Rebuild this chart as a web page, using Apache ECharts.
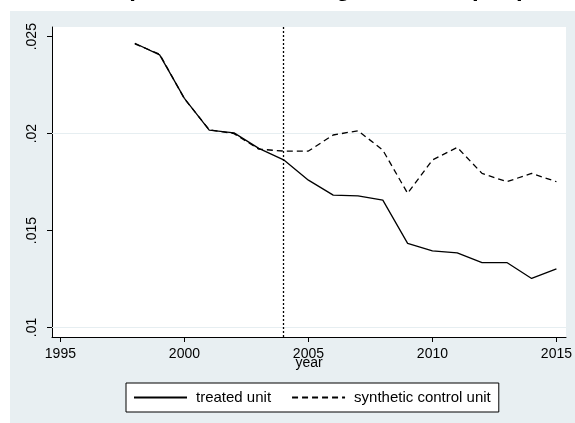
<!DOCTYPE html>
<html>
<head>
<meta charset="utf-8">
<script src="https://cdn.jsdelivr.net/npm/echarts@6/dist/echarts.min.js"></script>
<style>
  html, body { margin: 0; padding: 0; background: #ffffff; }
  #chart { width: 575px; height: 423px; }
</style>
</head>
<body>
<div id="chart"></div>
<script>
// New training contracts per person: treated unit vs synthetic control
const years = [1998, 1999, 2000, 2001, 2002, 2003, 2004, 2005, 2006,
               2007, 2008, 2009, 2010, 2011, 2012, 2013, 2014, 2015];
const treatedUnit = [0.02466, 0.02406, 0.02182, 0.02018, 0.02004, 0.01924,
                     0.01865, 0.01760, 0.01683, 0.01679, 0.01657, 0.01434,
                     0.01395, 0.01385, 0.01335, 0.01335, 0.01253, 0.01302];
const syntheticUnit = [0.02463, 0.02410, 0.02180, 0.02020, 0.02000, 0.01920,
                       0.01910, 0.01910, 0.01993, 0.02015, 0.01915, 0.01692,
                       0.01864, 0.01929, 0.01795, 0.01752, 0.01795, 0.01752];
const treatmentYear = 2004;
const xTickValues = [1995, 2000, 2005, 2010, 2015];
const yTickValues = [0.01, 0.015, 0.02, 0.025];
const yTickLabels = ['.01', '.015', '.02', '.025'];

const FONT = '"Liberation Sans", Arial, sans-serif';
const BG = '#e8eff2';
const GRIDLINE = '#e6eef1';

const pairs = (vals) => years.map((y, i) => [y, vals[i]]);

const chart = echarts.init(document.getElementById('chart'), null, { renderer: 'canvas' });

chart.setOption({
  animation: false,
  backgroundColor: '#ffffff',
  graphic: [
    {
      type: 'rect', z: -100, silent: true,
      shape: { x: 10, y: 11, width: 565, height: 412 },
      style: { fill: BG }
    }
  ],
  title: {
    text: 'Graph 2a: New training contracts per person',
    left: 88,
    top: -23,
    padding: 0,
    textStyle: { fontFamily: FONT, fontSize: 24, fontWeight: 'bold', color: '#000' }
  },
  grid: {
    left: 52, right: 3, top: 27, bottom: 86,
    show: true, backgroundColor: '#ffffff', borderWidth: 0,
    containLabel: false
  },
  legend: {
    data: ['treated unit', 'synthetic control unit'],
    left: 126,
    top: 383,
    orient: 'horizontal',
    padding: [7, 8, 7, 7],
    itemWidth: 53,
    itemHeight: 14,
    itemGap: 20,
    backgroundColor: '#ffffff',
    borderColor: '#000000',
    borderWidth: 1,
    borderRadius: 0,
    itemStyle: { color: 'rgba(0,0,0,0)', borderWidth: 0, opacity: 0 },
    textStyle: { fontFamily: FONT, fontSize: 15, color: '#000', padding: [0, 0, 0, 4] }
  },
  xAxis: {
    type: 'value',
    min: 1994.661,
    max: 2015.387,
    name: 'year',
    nameLocation: 'middle',
    nameGap: 19,
    nameMoveOverlap: false,
    nameTextStyle: { fontFamily: FONT, fontSize: 14, color: '#000' },
    axisLine: { show: true, onZero: false, lineStyle: { color: '#000', width: 1 } },
    axisTick: { show: true, length: 5, customValues: xTickValues, lineStyle: { color: '#000' } },
    axisLabel: {
      show: true, margin: 10, customValues: xTickValues,
      fontFamily: FONT, fontSize: 14, color: '#000',
      formatter: (v) => String(Math.round(v))
    },
    splitLine: { show: false }
  },
  yAxis: {
    type: 'value',
    min: 0.00951,
    max: 0.0255,
    axisLine: { show: true, onZero: false, lineStyle: { color: '#000', width: 1 } },
    axisTick: { show: true, length: 5, customValues: yTickValues, lineStyle: { color: '#000' } },
    axisLabel: {
      show: true, margin: 13, rotate: 90, customValues: yTickValues,
      fontFamily: FONT, fontSize: 14, color: '#000',
      formatter: (v) => {
        const i = yTickValues.findIndex((t) => Math.abs(t - v) < 1e-9);
        return i >= 0 ? yTickLabels[i] : '';
      }
    },
    splitLine: { show: false }
  },
  series: [
    {
      name: 'treated unit',
      type: 'line',
      data: pairs(treatedUnit),
      symbol: 'none',
      lineStyle: { color: '#000', width: 1.3, type: 'solid' },
      itemStyle: { color: '#000' },
      z: 3,
      markLine: {
        silent: true,
        symbol: 'none',
        label: { show: false },
        animation: false,
        z: 1,
        data: yTickValues.map((v) => ({ yAxis: v, lineStyle: { color: GRIDLINE, width: 1, type: 'solid' } }))
          .concat([{ xAxis: treatmentYear, lineStyle: { color: '#000', width: 1.3, type: [2, 2] } }])
      }
    },
    {
      name: 'synthetic control unit',
      type: 'line',
      data: pairs(syntheticUnit),
      symbol: 'none',
      lineStyle: { color: '#000', width: 1.3, type: [6, 4] },
      itemStyle: { color: '#000' },
      z: 3
    }
  ]
});
</script>
</body>
</html>
